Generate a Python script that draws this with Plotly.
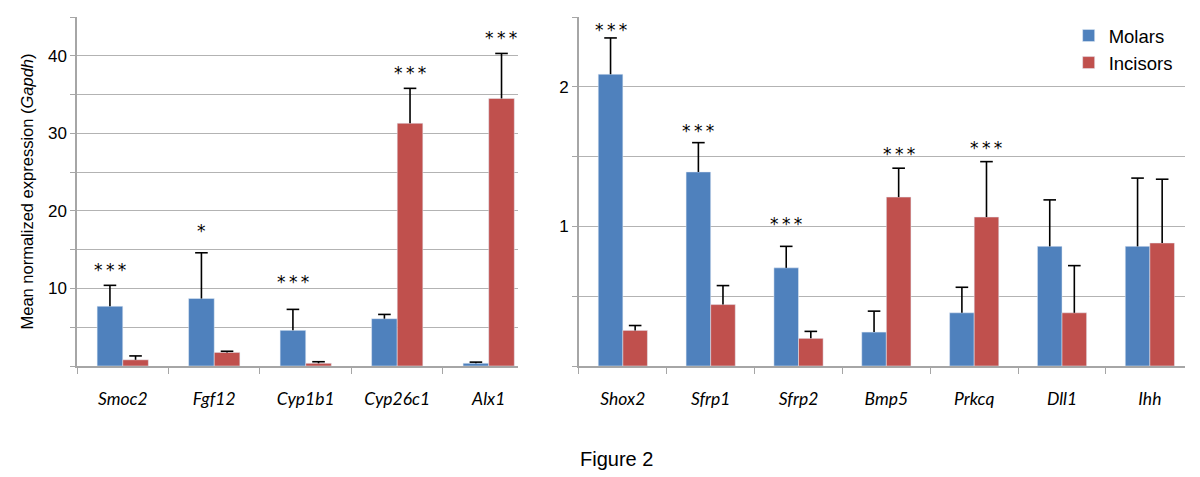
import plotly.graph_objects as go

# ---- data: left panel ----
genes_left = ["Smoc2", "Fgf12", "Cyp1b1", "Cyp26c1", "Alx1"]
molars_left = [7.7, 8.7, 4.6, 6.1, 0.35]
molars_left_err_top = [10.4, 14.6, 7.3, 6.65, 0.5]
incisors_left = [0.8, 1.75, 0.35, 31.3, 34.5]
incisors_left_err_top = [1.3, 1.9, 0.55, 35.8, 40.3]
stars_left = ["***", "*", "***", "***", "***"]
stars_left_group = ["Molars", "Molars", "Molars", "Incisors", "Incisors"]
stars_left_y = [12.4, 17.4, 10.8, 37.8, 42.3]
left_tickvals = [0, 5, 10, 15, 20, 25, 30, 35, 40, 45]
left_ticktext = ["", "", "10", "", "20", "", "30", "", "40", ""]

# ---- data: right panel ----
genes_right = ["Shox2", "Sfrp1", "Sfrp2", "Bmp5", "Prkcq", "Dll1", "Ihh"]
molars_right = [2.09, 1.39, 0.703, 0.243, 0.381, 0.857, 0.857]
molars_right_err_top = [2.35, 1.60, 0.857, 0.393, 0.564, 1.19, 1.346]
incisors_right = [0.255, 0.44, 0.198, 1.21, 1.067, 0.381, 0.881]
incisors_right_err_top = [0.29, 0.576, 0.248, 1.417, 1.464, 0.719, 1.338]
stars_right = ["***", "***", "***", "***", "***"]
stars_right_genes = ["Shox2", "Sfrp1", "Sfrp2", "Bmp5", "Prkcq"]
stars_right_group = ["Molars", "Molars", "Molars", "Incisors", "Incisors"]
stars_right_y = [2.41, 1.683, 1.014, 1.521, 1.562]
right_tickvals = [0, 0.5, 1, 1.5, 2, 2.5]
right_ticktext = ["", "", "1", "", "2", ""]

BLUE = "#4F81BD"
RED = "#C0504D"
GRID = "#b3b3b3"
AXIS = "#a6a6a6"
BARGAP = 0.44


def err(vals, tops):
    return [t - v for v, t in zip(vals, tops)]


fig = go.Figure()


def add_series(genes, vals, tops, name, color, xa, ya, show):
    fig.add_trace(go.Bar(x=genes, y=vals, name=name, marker_color=color,
                         offsetgroup=name, xaxis=xa, yaxis=ya,
                         showlegend=show, legendgroup=name))
    # error bar: upper part only, cap drawn as a horizontal line marker at the top
    fig.add_trace(go.Scatter(x=genes, y=tops, mode="markers", offsetgroup=name,
                             marker=dict(symbol="line-ew", size=9, color="black",
                                         line=dict(width=1.6, color="black")),
                             error_y=dict(type="data", symmetric=False,
                                          array=[0] * len(vals),
                                          arrayminus=err(vals, tops),
                                          color="black", thickness=1.6, width=0),
                             xaxis=xa, yaxis=ya, showlegend=False, hoverinfo="skip"))


add_series(genes_left, molars_left, molars_left_err_top, "Molars", BLUE, "x", "y", False)
add_series(genes_left, incisors_left, incisors_left_err_top, "Incisors", RED, "x", "y", False)
add_series(genes_right, molars_right, molars_right_err_top, "Molars", BLUE, "x2", "y2", True)
add_series(genes_right, incisors_right, incisors_right_err_top, "Incisors", RED, "x2", "y2", True)

annotations = []
star_font = dict(family="DejaVu Sans", size=17, color="black")


def star_text(s):
    return "\u2009".join(list(s))


for g, s, grp, yv in zip(genes_left, stars_left, stars_left_group, stars_left_y):
    annotations.append(dict(x=g, y=yv, xref="x", yref="y", text=star_text(s), showarrow=False,
                            xshift=-12.75 if grp == "Molars" else 12.75,
                            yanchor="middle", font=star_font))
for g, s, grp, yv in zip(stars_right_genes, stars_right, stars_right_group, stars_right_y):
    annotations.append(dict(x=g, y=yv, xref="x2", yref="y2", text=star_text(s), showarrow=False,
                            xshift=-12.3 if grp == "Molars" else 12.3,
                            yanchor="middle", font=star_font))

annotations.append(dict(x=-0.046, y=0.5, xref="paper", yref="paper",
                        text="Mean normalized expression (<i>Gapdh</i>)", textangle=-90,
                        showarrow=False, xanchor="center", yanchor="middle",
                        font=dict(family="Liberation Sans, Arial", size=16.5, color="black")))
annotations.append(dict(x=0.4865, y=-0.2665, xref="paper", yref="paper",
                        text="Figure 2", showarrow=False, xanchor="center", yanchor="middle",
                        font=dict(family="Liberation Sans, Arial", size=20, color="black")))

tick_font = dict(family="Liberation Sans, Arial", size=17, color="black")
cat_font = dict(family="Lato", size=17.5, color="black", style="italic")

xaxis_common = dict(type="category", showgrid=False, showline=True, linecolor=AXIS, linewidth=1.5,
                    ticks="outside", tickson="boundaries", ticklen=6, tickcolor=AXIS,
                    tickfont=cat_font, ticklabelstandoff=16, zeroline=False)
yaxis_common = dict(showgrid=True, gridcolor=GRID, gridwidth=1, showline=True, linecolor=AXIS,
                    linewidth=1.5, ticks="outside", ticklen=5, tickcolor=AXIS, tickfont=tick_font,
                    zeroline=False, tickmode="array")

# the page body adds an 8px offset, so the figure is 8px smaller on each side
fig.update_layout(
    width=1192, height=469,
    margin=dict(l=69, r=15, t=9, b=111, autoexpand=False),
    paper_bgcolor="white", plot_bgcolor="white",
    barmode="group", bargap=BARGAP, bargroupgap=0,
    scattermode="group", scattergap=BARGAP,
    xaxis=dict(domain=[0, 0.398], range=[-0.5, 4.32], anchor="y", **xaxis_common),
    yaxis=dict(domain=[0, 1], range=[0, 45], anchor="x", tickvals=left_tickvals,
               ticktext=left_ticktext, **yaxis_common),
    xaxis2=dict(domain=[0.453, 1], range=[-0.5, 6.40], anchor="y2", **xaxis_common),
    yaxis2=dict(domain=[0, 1], range=[0, 2.5], anchor="x2", tickvals=right_tickvals,
                ticktext=right_ticktext, **yaxis_common),
    legend=dict(x=0.895, y=1.0, xanchor="left", yanchor="top", bgcolor="rgba(0,0,0,0)",
                font=dict(family="Liberation Sans, Arial", size=18.5, color="black"),
                tracegroupgap=0),
    annotations=annotations,
    showlegend=True,
)

fig.write_html("out.html")
